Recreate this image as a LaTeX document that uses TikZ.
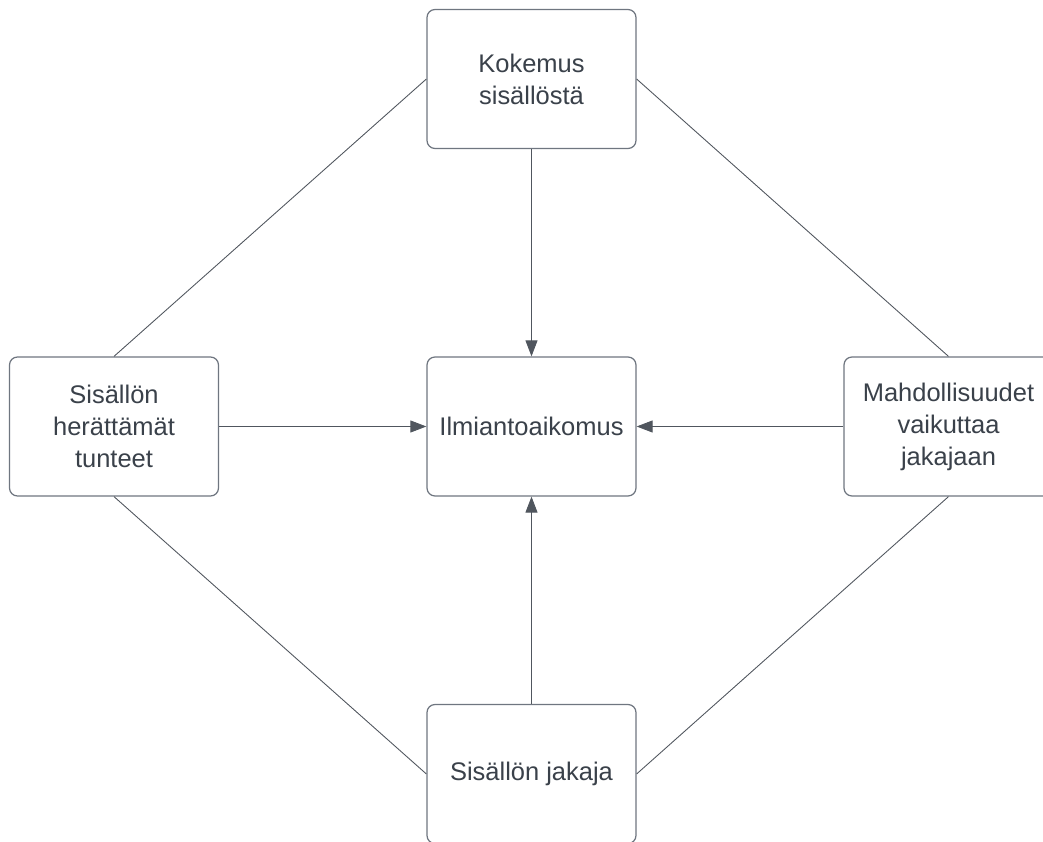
\documentclass[tikz,border=0pt]{standalone}
\usepackage{fontspec}
\setmainfont{Liberation Sans}
\usepackage{tikz}
\usetikzlibrary{arrows.meta, positioning}

\definecolor{boxline}{HTML}{6F7680}
\definecolor{linkline}{HTML}{50565E}
\definecolor{inktext}{HTML}{3A414A}

\begin{document}
\begin{tikzpicture}[
    every path/.style = {},
    every node/.append style = {font=\fontsize{14.5}{18.2}\selectfont, text=inktext},
    kaavio/.style = {draw=boxline, line width=0.7pt, rounded corners=0.16cm,
      fill=white, minimum width=4.18cm, minimum height=2.78cm,
      inner sep=0pt, align=center},
    yhteys/.style = {draw=linkline, line width=0.5pt},
    nuoli/.style = {yhteys, -{Triangle[length=0.32cm, width=0.24cm]}, color=linkline}
  ]
  \useasboundingbox (0,0) rectangle (20.86,-16.84);
  \clip (0,0) rectangle (20.86,-16.84);

  % laatikot
  \node[kaavio] (kokemus) at (10.63,-1.58) {Kokemus\\sisällöstä};
  \node[kaavio] (aikomus) at (10.63,-8.53) {Ilmiantoaikomus};
  \node[kaavio] (tunteet) at (2.28,-8.53) {Sisällön\\herättämät\\tunteet};
  \node[kaavio] (vaikutus) at (18.97,-8.53) {Mahdollisuudet\\vaikuttaa\\jakajaan};
  \node[kaavio] (jakaja) at (10.63,-15.48) {Sisällön jakaja};

  % reunaviivat
  \draw[yhteys] (kokemus.west) -- (tunteet.north);
  \draw[yhteys] (kokemus.east) -- (vaikutus.north);
  \draw[yhteys] (tunteet.south) -- (jakaja.west);
  \draw[yhteys] (vaikutus.south) -- (jakaja.east);

  % nuolet keskelle
  \draw[nuoli] (kokemus) -- (aikomus);
  \draw[nuoli] (tunteet) -- (aikomus);
  \draw[nuoli] (vaikutus) -- (aikomus);
  \draw[nuoli] (jakaja) -- (aikomus);
\end{tikzpicture}
\end{document}
